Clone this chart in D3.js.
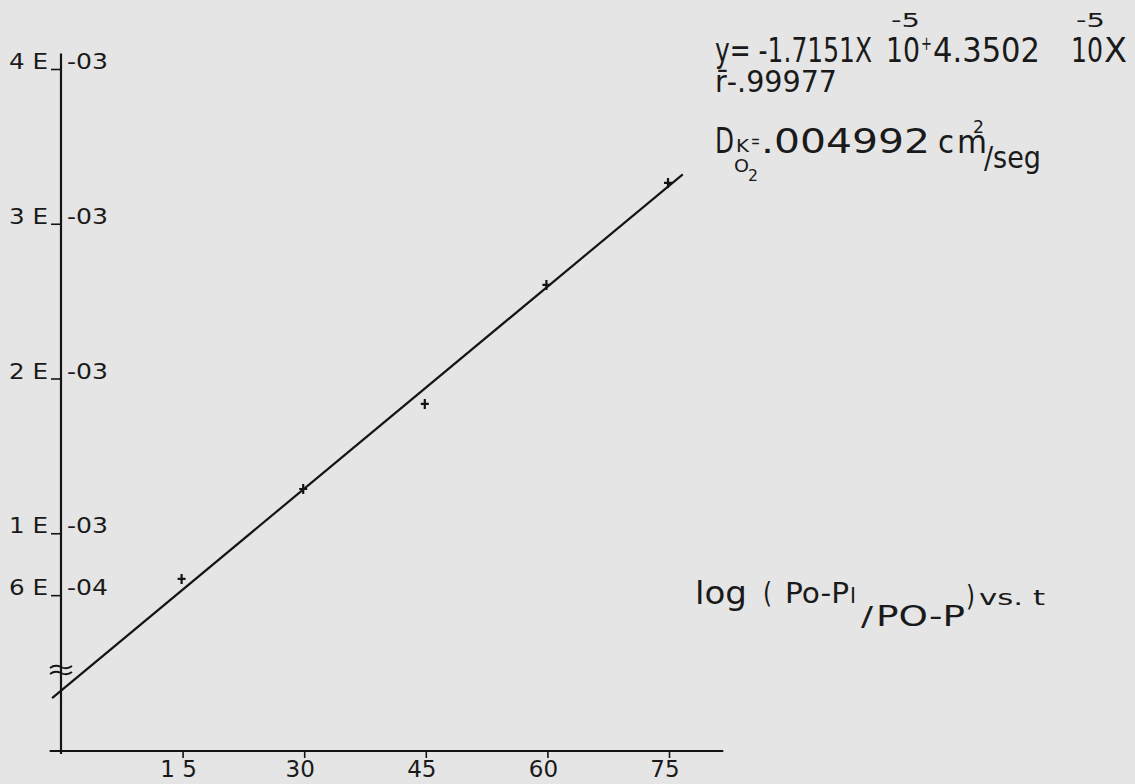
<!DOCTYPE html>
<html>
<head>
<meta charset="utf-8">
<script src="https://cdn.jsdelivr.net/npm/d3@7"></script>
<style>
  html, body { margin: 0; padding: 0; background: #e5e5e5; }
  svg { display: block; }
  text { font-family: "DejaVu Sans", "Liberation Sans", sans-serif; fill: #1a1a1a; }
</style>
</head>
<body>
<svg id="chart" width="1135" height="784"></svg>
<script>
// ---- data ----
const timeValues = [15, 30, 45, 60, 75];
const logValues = [7.05e-4, 1.286e-3, 1.836e-3, 2.605e-3, 3.264e-3];
const xTickValues = [15, 30, 45, 60, 75];
const xTickLabels = ["1 5", "30", "45", "60", "75"];
const yTickValues = [4e-3, 3e-3, 2e-3, 1e-3, 6e-4];
const yTickLeft = ["4 E", "3 E", "2 E", "1 E", "6 E"];
const yTickRight = ["-03", "-03", "-03", "-03", "-04"];
const fitIntercept = -1.7151e-5;
const fitSlope = 4.3502e-5;
const fitRange = [-1.1, 76.7];

const svg = d3.select("#chart");
const ink = "#141414";

const x = d3.scaleLinear().domain([0, 75]).range([61, 669]);
const y = d3.scaleLinear().domain([0, 4e-3]).range([688, 69]);
const axisY = 751;

// x axis
const xAxis = d3.axisBottom(x).tickValues(xTickValues).tickSize(7).tickFormat("");
const gx = svg.append("g").attr("transform", `translate(0,${axisY})`).call(xAxis);
gx.select(".domain").remove();
gx.selectAll(".tick line").attr("stroke", ink).attr("stroke-width", 1.6);
gx.append("line").attr("x1", x(-1.4)).attr("x2", x(81.7)).attr("y1", 0).attr("y2", 0)
  .attr("stroke", ink).attr("stroke-width", 2.2);
svg.append("g").selectAll("text").data(xTickValues).join("text")
  .attr("x", d => x(d) - 4).attr("y", 777)
  .attr("text-anchor", "middle").attr("font-size", 23)
  .text((d, i) => xTickLabels[i]);

// y axis
const yAxis = d3.axisLeft(y).tickValues(yTickValues).tickSize(10).tickFormat("");
const gy = svg.append("g").attr("transform", `translate(${x(0)},0)`).call(yAxis);
gy.select(".domain").remove();
gy.selectAll(".tick line").attr("stroke", ink).attr("stroke-width", 1.6);
gy.append("line").attr("x1", 0).attr("x2", 0).attr("y1", y(4.1e-3)).attr("y2", axisY + 3)
  .attr("stroke", ink).attr("stroke-width", 2.2);
svg.append("g").selectAll("text").data(yTickValues).join("text")
  .attr("x", 9).attr("y", d => y(d))
  .attr("font-size", 22).attr("textLength", 39).attr("lengthAdjust", "spacingAndGlyphs")
  .text((d, i) => yTickLeft[i]);
svg.append("g").selectAll("text").data(yTickValues).join("text")
  .attr("x", x(0) + 6).attr("y", d => y(d))
  .attr("font-size", 22).attr("textLength", 41).attr("lengthAdjust", "spacingAndGlyphs")
  .text((d, i) => yTickRight[i]);

// axis break marks
const bx = x(0);
[667, 673].forEach(by => {
  svg.append("path")
    .attr("d", `M${bx - 11},${by + 1} q5,-4 11,-1 q6,3 11,-1`)
    .attr("fill", "none").attr("stroke", ink).attr("stroke-width", 1.8);
});

// fitted line
const fitPts = fitRange.map(t => [t, fitIntercept + fitSlope * t]);
svg.append("path")
  .attr("d", d3.line().x(d => x(d[0])).y(d => y(d[1]))(fitPts))
  .attr("fill", "none").attr("stroke", ink).attr("stroke-width", 2.2);

// data points (+)
svg.append("g").selectAll("path").data(timeValues).join("path")
  .attr("d", (d, i) => {
    const px = x(d) - 1, py = y(logValues[i]);
    return `M${px - 4},${py} h8 M${px},${py - 5} v10`;
  })
  .attr("stroke", ink).attr("stroke-width", 2.2);

// annotation
function t(str, xx, yy, size, len) {
  const el = svg.append("text").attr("x", xx).attr("y", yy).attr("font-size", size).text(str);
  if (len) el.attr("textLength", len).attr("lengthAdjust", "spacingAndGlyphs");
  return el;
}
t("y= -1.7151X", 715, 62, 34, 157);
t("10", 886, 62, 34, 34);
t("-5", 891, 27, 19, 29);
t("+", 921, 50, 20, 11);
t("4.3502", 933, 62, 34, 107);
t("10", 1071, 62, 34, 32);
t("-5", 1076, 27, 19, 29);
t("X", 1104, 62, 34, 23);

t("r\u0304-.99977", 715, 92, 30, 122);

t("D", 715, 153, 35, 19);
t("K", 736, 152, 17, 13);
t("=", 751, 147, 17, 9);
t(".004992", 761, 153, 34, 169);
t("c", 938, 153, 32, 16);
t("m", 957, 153, 32, 30);
t("2", 973, 133, 18, 11);
t("/seg", 984, 168, 30, 57);
t("O", 734, 172, 18, 15);
t("2", 748, 181, 16, 10);

// title
t("log", 695, 604, 32, 52);
t("(", 763, 603, 28, 9);
t("Po-P", 785, 603, 28, 64);
t("I", 850, 603, 22, 6);
t("/", 861, 626, 26, 12);
t("PO-P", 876, 626, 28, 89);
t(")", 966, 606, 28, 9);
t("vs. t", 979, 605, 22, 66);
</script>
</body>
</html>
